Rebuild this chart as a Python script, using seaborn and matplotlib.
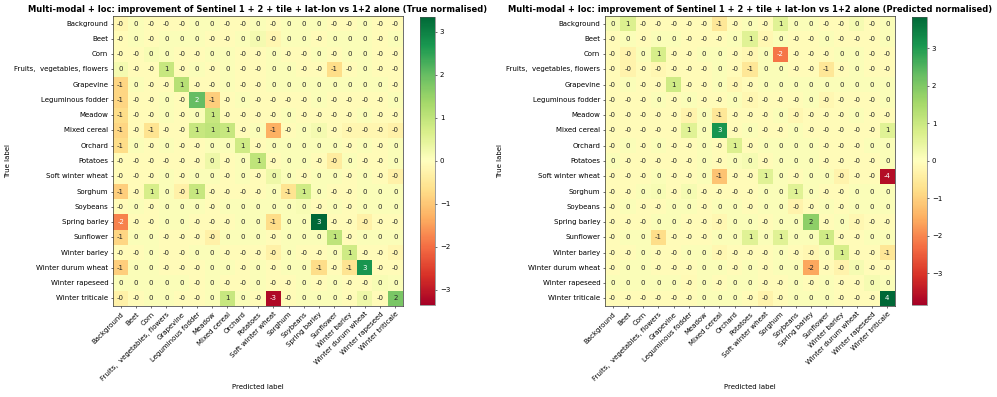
import numpy as np
import pandas as pd
import matplotlib
matplotlib.use("Agg")
import matplotlib.pyplot as plt
import seaborn as sns

labels = ["Background", "Beet", "Corn", "Fruits,  vegetables, flowers", "Grapevine",
          "Leguminous fodder", "Meadow", "Mixed cereal", "Orchard", "Potatoes",
          "Soft winter wheat", "Sorghum", "Soybeans", "Spring barley", "Sunflower",
          "Winter barley", "Winter durum wheat", "Winter rapeseed", "Winter triticale"]

# Improvement, true-normalised (rows = true label, cols = predicted label)
true_norm = [
    [-0.2, 0.1, -0.1, -0.1, -0.1, 0.1, 0.1, -0.1, -0.1, 0.1, -0.1, 0.1, 0.1, 0.1, -0.1, -0.1, 0.1, -0.1, -0.1],
    [-0.1, 0.1, -0.1, 0.1, 0.1, 0.1, -0.1, -0.1, 0.1, 0.2, -0.2, 0.1, 0.1, -0.1, 0.1, 0.1, 0.1, -0.1, 0.1],
    [-0.1, -0.1, 0.15, 0.1, -0.1, -0.1, 0.1, 0.1, -0.1, -0.1, 0.1, -0.1, -0.1, 0.1, -0.1, 0.1, 0.1, -0.1, -0.1],
    [0.2, -0.1, -0.1, 0.9, -0.1, 0.1, -0.1, 0.1, -0.1, -0.1, 0.1, 0.1, -0.1, -0.1, -0.7, -0.1, 0.1, -0.1, -0.1],
    [-0.8, 0.1, -0.1, -0.1, 1.1, -0.1, -0.1, 0.1, -0.1, -0.1, 0.1, 0.1, 0.1, 0.1, 0.1, 0.1, 0.1, 0.1, -0.1],
    [-0.8, -0.1, -0.1, 0.1, -0.1, 2.0, -0.9, -0.1, 0.1, -0.1, -0.1, -0.1, -0.1, 0.1, -0.1, -0.1, -0.1, -0.1, 0.1],
    [-0.7, -0.1, -0.1, 0.1, -0.1, 0.1, 0.9, -0.1, -0.1, -0.1, -0.1, 0.1, -0.1, -0.1, -0.1, -0.1, 0.1, -0.1, -0.1],
    [-0.8, -0.1, -0.6, -0.1, -0.1, 0.9, 1.0, 0.9, -0.1, 0.1, -1.3, -0.1, 0.1, 0.2, -0.1, -0.2, -0.2, -0.2, -0.3],
    [-0.7, 0.1, -0.1, 0.1, -0.1, -0.1, 0.1, 0.1, 0.8, -0.1, 0.1, 0.1, 0.1, 0.1, 0.1, -0.1, 0.1, -0.1, 0.1],
    [-0.1, -0.1, -0.1, -0.1, -0.1, -0.1, 0.3, -0.1, 0.1, 1.0, -0.1, 0.1, 0.1, -0.1, -0.4, 0.1, -0.1, -0.1, 0.1],
    [-0.1, -0.1, -0.1, 0.1, -0.1, 0.1, 0.1, -0.1, 0.1, -0.1, 0.3, 0.1, -0.1, 0.1, 0.1, -0.1, 0.1, -0.1, -0.3],
    [-0.9, -0.1, 0.7, 0.1, -0.3, 0.9, -0.1, -0.1, -0.1, -0.1, 0.1, -0.6, 0.8, 0.1, -0.1, -0.1, 0.1, 0.1, 0.1],
    [-0.1, 0.1, -0.1, 0.1, 0.1, 0.1, -0.1, 0.1, 0.1, 0.1, 0.1, 0.1, 0.15, -0.1, 0.1, -0.1, 0.1, 0.1, 0.1],
    [-1.8, -0.1, -0.1, 0.1, 0.1, -0.1, -0.1, -0.1, 0.1, 0.1, -0.7, 0.1, 0.1, 3.35, -0.1, -0.1, -0.3, -0.1, -0.1],
    [-0.8, 0.1, 0.1, -0.1, -0.1, -0.1, -0.3, 0.1, 0.1, 0.1, -0.1, 0.1, 0.1, 0.1, 1.0, -0.1, 0.1, 0.1, 0.1],
    [-0.1, -0.1, 0.1, -0.1, -0.1, 0.1, 0.1, -0.1, -0.1, -0.1, -0.3, 0.1, -0.1, -0.1, 0.1, 0.8, -0.1, -0.1, -0.2],
    [-0.9, 0.1, 0.1, -0.1, -0.1, -0.1, 0.1, 0.1, -0.1, 0.1, -0.1, 0.1, 0.1, -0.7, -0.1, -0.6, 2.7, -0.1, -0.1],
    [0.1, 0.1, 0.1, 0.1, 0.1, -0.1, 0.1, -0.1, -0.1, 0.1, -0.1, -0.1, 0.1, -0.1, 0.1, -0.1, -0.1, 0.15, 0.1],
    [-0.3, -0.1, 0.1, 0.1, -0.1, -0.1, 0.1, 0.9, 0.1, -0.1, -3.2, -0.1, 0.1, 0.1, 0.1, -0.1, 0.3, -0.1, 1.8],
]

# Improvement, predicted-normalised
pred_norm = [
    [0.2, 0.7, -0.1, -0.1, -0.1, -0.1, -0.1, -0.6, -0.1, 0.1, -0.1, 0.6, 0.1, 0.1, -0.1, -0.1, 0.2, -0.1, 0.1],
    [-0.1, 0.1, -0.1, 0.1, 0.1, -0.1, -0.1, -0.1, 0.1, 0.6, -0.2, 0.1, -0.1, -0.1, 0.1, -0.1, -0.1, -0.1, 0.1],
    [-0.1, -0.3, 0.1, 0.8, -0.1, -0.1, 0.1, 0.1, -0.1, -0.2, 0.1, -2.2, -0.1, -0.1, -0.1, 0.1, 0.1, -0.1, -0.1],
    [-0.1, -0.3, -0.1, -0.2, -0.1, -0.1, -0.1, 0.1, -0.1, -0.6, 0.1, 0.1, -0.1, -0.1, -0.6, -0.1, 0.1, -0.1, -0.1],
    [-0.1, 0.1, -0.1, -0.1, 0.9, -0.1, -0.1, 0.1, -0.2, -0.1, 0.1, 0.1, 0.1, 0.1, 0.1, 0.1, 0.1, 0.1, 0.1],
    [-0.1, -0.1, -0.1, 0.1, -0.1, 0.1, -0.1, -0.1, 0.1, -0.2, -0.1, -0.1, -0.1, 0.1, -0.2, -0.1, -0.1, -0.1, 0.1],
    [-0.1, -0.1, -0.1, -0.1, -0.1, -0.3, 0.1, -0.6, -0.1, -0.1, -0.1, 0.1, -0.2, -0.1, -0.1, -0.1, 0.1, -0.1, -0.1],
    [-0.1, -0.1, -0.1, -0.1, -0.1, 0.6, 0.1, 3.1, -0.1, 0.1, -0.1, -0.1, 0.1, -0.1, -0.1, -0.1, -0.1, -0.1, 0.6],
    [-0.1, 0.1, -0.1, 0.1, -0.1, -0.1, 0.1, -0.1, 0.7, -0.1, 0.1, 0.1, 0.1, 0.1, -0.1, -0.1, -0.1, 0.1, 0.1],
    [0.1, -0.1, -0.1, -0.1, -0.1, -0.1, 0.1, -0.1, 0.1, 0.2, -0.1, 0.1, 0.1, 0.1, -0.1, -0.1, -0.1, -0.1, 0.1],
    [-0.1, -0.1, -0.1, 0.1, -0.1, -0.1, 0.1, -1.2, -0.1, -0.1, 0.6, 0.1, -0.1, 0.1, 0.1, -0.3, -0.1, -0.1, -3.6],
    [-0.1, -0.1, 0.1, 0.15, -0.1, 0.2, -0.1, -0.1, -0.1, -0.1, 0.1, 0.1, 0.6, 0.1, -0.1, -0.1, 0.1, 0.1, 0.1],
    [-0.1, 0.1, -0.1, -0.1, 0.1, 0.1, -0.1, 0.1, 0.1, -0.1, 0.1, 0.1, -0.3, -0.1, 0.1, -0.1, 0.1, 0.1, 0.1],
    [-0.1, -0.1, -0.1, 0.1, 0.1, -0.1, -0.1, -0.2, 0.1, 0.1, -0.1, 0.1, 0.1, 1.8, -0.1, 0.1, -0.2, -0.1, -0.1],
    [-0.1, 0.1, 0.1, -0.8, -0.1, -0.1, -0.1, 0.1, 0.1, 0.6, 0.1, 0.6, 0.1, 0.1, 0.9, -0.1, -0.1, 0.1, 0.1],
    [-0.1, -0.1, 0.1, -0.1, -0.1, 0.1, 0.1, -0.2, -0.1, -0.1, -0.1, 0.1, -0.1, -0.2, 0.1, 0.8, -0.1, -0.1, -0.6],
    [-0.1, 0.1, 0.1, -0.1, -0.1, -0.1, 0.1, 0.1, -0.1, 0.1, -0.1, 0.1, 0.1, -1.6, -0.1, -0.3, 0.2, -0.1, -0.1],
    [0.1, 0.1, 0.1, 0.1, 0.1, -0.15, 0.1, -0.1, 0.1, 0.1, -0.1, -0.1, 0.1, -0.1, 0.1, -0.1, -0.1, 0.2, 0.1],
    [-0.1, -0.1, -0.1, -0.1, -0.1, -0.1, 0.1, 0.1, 0.1, -0.1, -0.3, -0.1, 0.1, 0.1, 0.1, -0.1, -0.1, -0.1, 3.84],
]

titles = ["Multi-modal + loc: improvement of Sentinel 1 + 2 + tile + lat-lon vs 1+2 alone (True normalised)",
          "Multi-modal + loc: improvement of Sentinel 1 + 2 + tile + lat-lon vs 1+2 alone (Predicted normalised)"]

W, H = 997, 397
fig = plt.figure(figsize=(W / 50, H / 50), dpi=50)

panels = [
    (true_norm, titles[0], 113, 420),
    (pred_norm, titles[1], 605, 912),
]
for data, title, axl, cbl in panels:
    df = pd.DataFrame(np.array(data), index=labels, columns=labels)
    vlim = float(np.abs(df.values).max())
    ax = fig.add_axes([axl / W, (H - 306) / H, 290 / W, 290 / H])
    cax = fig.add_axes([cbl / W, (H - 305) / H, 15 / W, 288.5 / H])
    sns.heatmap(df, ax=ax, cbar_ax=cax, cmap="RdYlGn", vmin=-vlim, vmax=vlim,
                annot=True, fmt=".0f", annot_kws={"size": 10})
    for s in ax.spines.values():
        s.set_visible(True)
        s.set_linewidth(1.0)
        s.set_color("#333333")
    ax.set_xticks(np.arange(len(labels)) + 0.5)
    ax.set_xticklabels(labels, rotation=45, ha="right", rotation_mode="anchor", fontsize=10)
    ax.set_yticks(np.arange(len(labels)) + 0.5)
    ax.set_yticklabels(labels, rotation=0, fontsize=10)
    ax.tick_params(axis="both", length=3.5, width=0.8)
    ax.set_xlabel("Predicted label", fontsize=10)
    ax.set_ylabel("True label", fontsize=10)
    ax.set_title(title, fontsize=12, fontweight="bold")
    cb = ax.collections[0].colorbar
    cb.set_ticks([-3, -2, -1, 0, 1, 2, 3])
    cb.ax.tick_params(labelsize=10, length=3.5, width=0.8)
    cb.outline.set_visible(True)
    cb.outline.set_linewidth(0.8)
    cb.outline.set_edgecolor("#555555")

fig.savefig("out.png", dpi=50)
